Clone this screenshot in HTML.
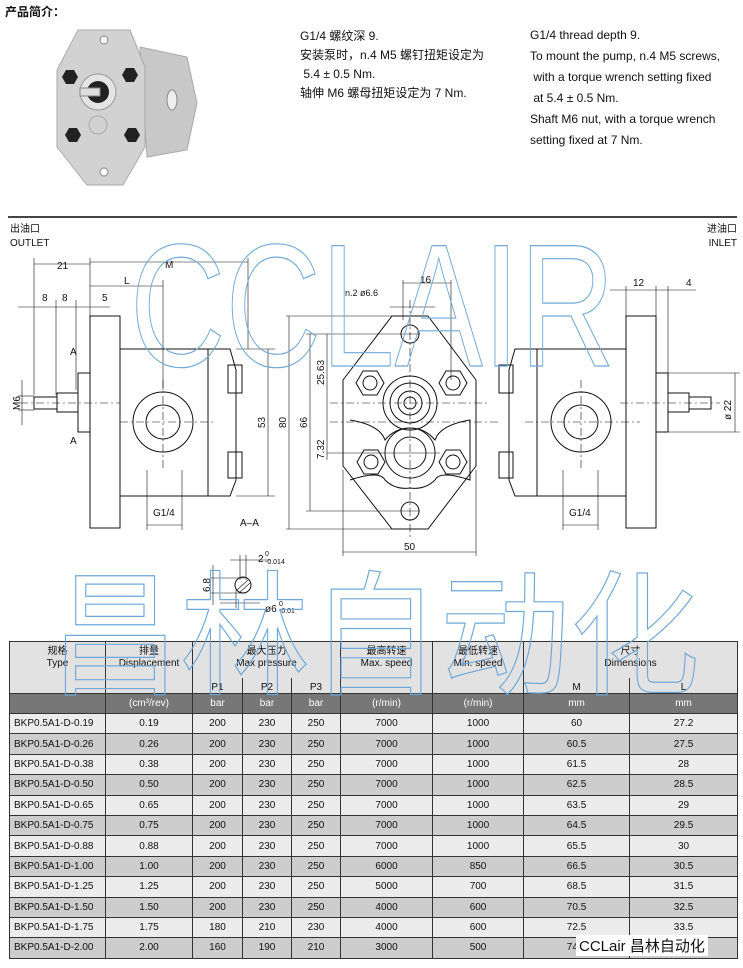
<!DOCTYPE html>
<html><head><meta charset="utf-8"><style>
body{margin:0;width:743px;height:968px;background:#fff;position:relative;overflow:hidden;font-family:"Liberation Sans","Noto Sans CJK SC",sans-serif;color:#111}
.t{position:absolute;font-size:12px;white-space:nowrap}
table{position:absolute;left:9px;top:641px;width:728px;border-collapse:collapse;font-size:10px;table-layout:fixed}
td{border:1px solid #333;text-align:center;padding:0;height:19.4px}
tr.u td{background:#777;color:#fff;height:19px}
tr.a td{background:#ececec}
tr.b td{background:#cdcdcd}
tr.h1 td{height:32px}
td.h{background:#e2e2e2;vertical-align:top;padding-top:4px;line-height:12px}
td.p{background:#e2e2e2;height:15px;border-top:none;vertical-align:bottom}
td.l{text-align:left;padding-left:4px}
</style></head><body>
<div class="t" style="left:5px;top:3px;font-weight:bold;font-size:12px">产品简介：</div>
<svg style="position:absolute;left:0;top:0" width="743" height="220">
<polygon points="140,47 187,57 197,103 187,150 147,157" fill="#c8c8c8" stroke="#aaa"/>
<ellipse cx="172" cy="100" rx="5" ry="10" fill="#eee" stroke="#888"/>
<polygon points="78,30 130,30 145,67 145,147 123,185 87,185 57,147 57,70" fill="#d2d2d2" stroke="#aaa"/>
<circle cx="104" cy="40" r="4" fill="#fff" stroke="#888"/><circle cx="104" cy="172" r="4" fill="#fff" stroke="#888"/>
<polygon points="62,77 66,70 74,70 78,77 74,84 66,84" fill="#222"/>
<polygon points="122,75 126,68 134,68 138,75 134,82 126,82" fill="#222"/>
<polygon points="65,135 69,128 77,128 81,135 77,142 69,142" fill="#222"/>
<polygon points="124,135 128,128 136,128 140,135 136,142 128,142" fill="#222"/>
<circle cx="98" cy="92" r="18" fill="#e4e4e4" stroke="#999"/><circle cx="98" cy="92" r="11" fill="#222"/>
<rect x="80" y="88" width="20" height="8" fill="#ddd" stroke="#888"/>
<circle cx="98" cy="125" r="9" fill="none" stroke="#aaa"/>
</svg>
<div class="t" style="left:300px;top:27px;line-height:19px">G1/4 螺纹深 9.<br>安装泵时，n.4 M5 螺钉扭矩设定为<br>&nbsp;5.4 ± 0.5 Nm.<br>轴伸 M6 螺母扭矩设定为 7 Nm.</div>
<div class="t" style="left:530px;top:25px;line-height:21px"> G1/4 thread depth 9.<br>To mount the pump, n.4 M5 screws,<br>&nbsp;with a torque wrench setting fixed<br>&nbsp;at 5.4 ± 0.5 Nm.<br>Shaft M6 nut, with a torque wrench<br>setting fixed at 7 Nm.</div>
<div style="position:absolute;left:8px;top:216px;width:729px;height:2px;background:#444"></div>
<div class="t" style="left:10px;top:223px;font-size:10px;line-height:14px">出油口<br>OUTLET</div>
<div class="t" style="right:6px;top:223px;font-size:10px;line-height:14px;text-align:right">进油口<br>INLET</div>
<svg style="position:absolute;left:0;top:0" width="743" height="640" font-family="Liberation Sans" font-size="10" fill="none" stroke="#111" stroke-width="1">
<rect x="90" y="316" width="30" height="212"/>
<rect x="120" y="349" width="88" height="147"/>
<path d="M208,349 L230,349 L236,370 L236,480 L230,496 L208,496 Z"/>
<rect x="228" y="365" width="14" height="28"/><rect x="228" y="452" width="14" height="26"/>
<rect x="78" y="373" width="12" height="59"/>
<rect x="57" y="393" width="21" height="19"/><rect x="34" y="397" width="23" height="12"/>
<circle cx="163" cy="422" r="30"/><circle cx="163" cy="422" r="17"/>
<g stroke-dasharray="8,3,2,3" stroke-width="0.6"><line x1="20" y1="403" x2="120" y2="403"/><line x1="120" y1="422" x2="215" y2="422"/><line x1="163" y1="380" x2="163" y2="470"/>
<line x1="330" y1="403" x2="490" y2="403"/><line x1="410" y1="300" x2="410" y2="540"/><line x1="330" y1="422" x2="500" y2="422"/>
<line x1="525" y1="422" x2="640" y2="422"/><line x1="581" y1="380" x2="581" y2="470"/><line x1="620" y1="403" x2="720" y2="403"/></g>
<g stroke-width="0.6">
<line x1="34" y1="258" x2="34" y2="395"/><line x1="90" y1="258" x2="90" y2="316"/><line x1="248" y1="258" x2="248" y2="349"/><line x1="163" y1="280" x2="163" y2="390"/>
<line x1="34" y1="264" x2="90" y2="264"/><line x1="90" y1="262" x2="248" y2="262"/><line x1="90" y1="286" x2="163" y2="286"/>
<line x1="18" y1="307" x2="110" y2="307"/><line x1="56" y1="300" x2="56" y2="395"/><line x1="76" y1="300" x2="76" y2="390"/>
<line x1="236" y1="349" x2="275" y2="349"/><line x1="236" y1="496" x2="275" y2="496"/><line x1="268" y1="349" x2="268" y2="496"/>
<line x1="286" y1="316" x2="395" y2="316"/><line x1="286" y1="529" x2="395" y2="529"/><line x1="289" y1="316" x2="289" y2="529"/>
<line x1="306" y1="334" x2="420" y2="334"/><line x1="306" y1="511" x2="420" y2="511"/><line x1="310" y1="334" x2="310" y2="511"/>
<line x1="327" y1="334" x2="327" y2="460"/><line x1="327" y1="453" x2="440" y2="453"/>
<line x1="22" y1="380" x2="22" y2="425"/><line x1="18" y1="396" x2="34" y2="396"/><line x1="18" y1="410" x2="34" y2="410"/>
<line x1="147" y1="470" x2="147" y2="530"/><line x1="182" y1="470" x2="182" y2="530"/><line x1="147" y1="525" x2="182" y2="525"/>
<line x1="403" y1="280" x2="403" y2="320"/><line x1="451" y1="280" x2="451" y2="380"/><line x1="403" y1="283" x2="451" y2="283"/>
<line x1="390" y1="307" x2="435" y2="307"/><line x1="343" y1="470" x2="343" y2="556"/><line x1="476" y1="470" x2="476" y2="556"/><line x1="343" y1="552" x2="476" y2="552"/>
<line x1="610" y1="290" x2="696" y2="290"/><line x1="656" y1="286" x2="656" y2="316"/><line x1="668" y1="286" x2="668" y2="373"/><line x1="626" y1="286" x2="626" y2="316"/>
<line x1="656" y1="373" x2="740" y2="373"/><line x1="656" y1="432" x2="740" y2="432"/><line x1="735" y1="373" x2="735" y2="432"/>
<line x1="563" y1="470" x2="563" y2="530"/><line x1="598" y1="470" x2="598" y2="530"/><line x1="563" y1="525" x2="598" y2="525"/>
<line x1="213" y1="565" x2="213" y2="605"/><line x1="210" y1="578" x2="245" y2="578"/><line x1="210" y1="593" x2="245" y2="593"/>
<line x1="230" y1="560" x2="270" y2="560"/><line x1="240" y1="555" x2="240" y2="580"/><line x1="246" y1="555" x2="246" y2="580"/>
<line x1="220" y1="603" x2="260" y2="603"/><line x1="236" y1="590" x2="236" y2="608"/>
</g>
<circle cx="243" cy="585" r="8"/><path d="M237,590 L248,580 M239,593 L250,583" stroke-width="0.6"/>
<polygon points="392,316 428,316 476,380 476,466 428,529 392,529 343,466 343,380"/>
<circle cx="410" cy="334" r="9"/><circle cx="410" cy="511" r="9"/>
<circle cx="410" cy="403" r="27"/><circle cx="410" cy="403" r="20"/><circle cx="410" cy="403" r="12"/><circle cx="410" cy="403" r="6"/>
<circle cx="410" cy="453" r="25"/><circle cx="410" cy="453" r="16"/>
<path d="M350,420 Q380,425 385,440 Q395,428 410,428 Q425,428 435,440 Q440,425 470,420 L470,480 Q440,470 435,480 Q425,490 410,488 Q395,490 385,480 Q380,470 350,480"/>
<g>
<polygon points="356,383 363,371 377,371 384,383 377,395 363,395"/><circle cx="370" cy="383" r="7"/>
<polygon points="439,383 446,371 460,371 467,383 460,395 446,395"/><circle cx="453" cy="383" r="7"/>
<polygon points="357,462 364,450 378,450 385,462 378,474 364,474"/><circle cx="371" cy="462" r="7"/>
<polygon points="439,462 446,450 460,450 467,462 460,474 446,474"/><circle cx="453" cy="462" r="7"/>
</g>
<rect x="626" y="316" width="30" height="212"/>
<rect x="537" y="349" width="89" height="147"/>
<path d="M537,349 L515,349 L509,370 L509,480 L515,496 L537,496 Z"/>
<rect x="499" y="365" width="14" height="28"/><rect x="499" y="452" width="14" height="26"/>
<rect x="656" y="373" width="12" height="59"/>
<rect x="668" y="393" width="21" height="19"/><rect x="689" y="397" width="22" height="12"/>
<circle cx="581" cy="422" r="30"/><circle cx="581" cy="422" r="17"/>
<g fill="#111" stroke="none">
<text x="57" y="269">21</text><text x="165" y="268">M</text><text x="124" y="284">L</text>
<text x="42" y="301">8</text><text x="62" y="301">8</text><text x="102" y="301">5</text>
<text x="70" y="355">A</text><text x="70" y="444">A</text>
<text x="240" y="526">A–A</text><text x="153" y="516">G1/4</text><text x="569" y="516">G1/4</text>
<text x="420" y="283">16</text><text x="345" y="296" font-size="9">n.2  ø6.6</text>
<text x="404" y="550">50</text><text x="633" y="286">12</text><text x="686" y="286">4</text>
<text x="258" y="562">2</text><text x="265" y="556" font-size="7">0</text><text x="265" y="564" font-size="7">-0.014</text>
<text x="265" y="612">ø6</text><text x="279" y="606" font-size="7">0</text><text x="279" y="613" font-size="7">-0.01</text>
<text transform="translate(20,410) rotate(-90)">M6</text>
<text transform="translate(265,428) rotate(-90)">53</text>
<text transform="translate(286,428) rotate(-90)">80</text>
<text transform="translate(307,428) rotate(-90)">66</text>
<text transform="translate(324,385) rotate(-90)">25.63</text>
<text transform="translate(324,459) rotate(-90)">7.32</text>
<text transform="translate(210,592) rotate(-90)">6.8</text>
<text transform="translate(731,420) rotate(-90)">ø 22</text>
</g>
</svg>
<table>
<colgroup><col style="width:96px"><col style="width:87px"><col style="width:50px"><col style="width:49px"><col style="width:49px"><col style="width:92px"><col style="width:91px"><col style="width:106px"><col style="width:108px"></colgroup>
<tr class="h1"><td class="h" rowspan="2">规格<br>Type</td><td class="h" rowspan="2">排量<br>Displacement</td><td class="h" colspan="3" style="border-bottom:none">最大压力<br>Max pressure</td><td class="h" rowspan="2">最高转速<br>Max. speed</td><td class="h" rowspan="2">最低转速<br>Min. speed</td><td class="h" colspan="2" style="border-bottom:none">尺寸<br>Dimensions</td></tr>
<tr><td class="p">P1</td><td class="p">P2</td><td class="p">P3</td><td class="p">M</td><td class="p">L</td></tr>
<tr class="u"><td></td><td>(cm³/rev)</td><td>bar</td><td>bar</td><td>bar</td><td>(r/min)</td><td>(r/min)</td><td>mm</td><td>mm</td></tr>
<tr class="a"><td class="l">BKP0.5A1-D-0.19</td><td>0.19</td><td>200</td><td>230</td><td>250</td><td>7000</td><td>1000</td><td>60</td><td>27.2</td></tr>
<tr class="b"><td class="l">BKP0.5A1-D-0.26</td><td>0.26</td><td>200</td><td>230</td><td>250</td><td>7000</td><td>1000</td><td>60.5</td><td>27.5</td></tr>
<tr class="a"><td class="l">BKP0.5A1-D-0.38</td><td>0.38</td><td>200</td><td>230</td><td>250</td><td>7000</td><td>1000</td><td>61.5</td><td>28</td></tr>
<tr class="b"><td class="l">BKP0.5A1-D-0.50</td><td>0.50</td><td>200</td><td>230</td><td>250</td><td>7000</td><td>1000</td><td>62.5</td><td>28.5</td></tr>
<tr class="a"><td class="l">BKP0.5A1-D-0.65</td><td>0.65</td><td>200</td><td>230</td><td>250</td><td>7000</td><td>1000</td><td>63.5</td><td>29</td></tr>
<tr class="b"><td class="l">BKP0.5A1-D-0.75</td><td>0.75</td><td>200</td><td>230</td><td>250</td><td>7000</td><td>1000</td><td>64.5</td><td>29.5</td></tr>
<tr class="a"><td class="l">BKP0.5A1-D-0.88</td><td>0.88</td><td>200</td><td>230</td><td>250</td><td>7000</td><td>1000</td><td>65.5</td><td>30</td></tr>
<tr class="b"><td class="l">BKP0.5A1-D-1.00</td><td>1.00</td><td>200</td><td>230</td><td>250</td><td>6000</td><td>850</td><td>66.5</td><td>30.5</td></tr>
<tr class="a"><td class="l">BKP0.5A1-D-1.25</td><td>1.25</td><td>200</td><td>230</td><td>250</td><td>5000</td><td>700</td><td>68.5</td><td>31.5</td></tr>
<tr class="b"><td class="l">BKP0.5A1-D-1.50</td><td>1.50</td><td>200</td><td>230</td><td>250</td><td>4000</td><td>600</td><td>70.5</td><td>32.5</td></tr>
<tr class="a"><td class="l">BKP0.5A1-D-1.75</td><td>1.75</td><td>180</td><td>210</td><td>230</td><td>4000</td><td>600</td><td>72.5</td><td>33.5</td></tr>
<tr class="b"><td class="l">BKP0.5A1-D-2.00</td><td>2.00</td><td>160</td><td>190</td><td>210</td><td>3000</td><td>500</td><td>74.5</td><td>34.5</td></tr>
</table>
<svg style="position:absolute;left:0;top:0;pointer-events:none" width="743" height="968">
<text x="130" y="366" font-family="Liberation Sans" font-size="175" textLength="485" lengthAdjust="spacingAndGlyphs" fill="none" stroke="#6fa8d8" stroke-width="1.2">CCLAIR</text>
<text x="50" y="684" font-family="Noto Sans CJK SC" font-size="135" textLength="650" lengthAdjust="spacingAndGlyphs" fill="none" stroke="#6fa8d8" stroke-width="1.2">昌林自动化</text>
</svg>
<div class="t" style="left:576px;top:935px;font-size:15px;background:#fff;padding:0 3px">CCLair 昌林自动化</div>
</body></html>
